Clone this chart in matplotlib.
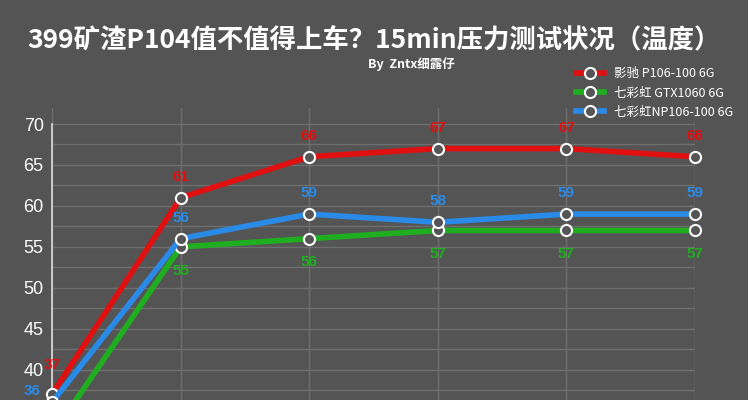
import matplotlib
matplotlib.use("Agg")
import matplotlib.pyplot as plt
import numpy as np

categories = ["0", "3", "6", "9", "12", "15"]
series_names = ["影驰 P106-100 6G", "七彩虹 GTX1060 6G", "七彩虹NP106-100 6G"]
red_vals = [37, 61, 66, 67, 67, 66]
green_vals = [32, 55, 56, 57, 57, 57]
blue_vals = [36, 56, 59, 58, 59, 59]
yticks = [40, 45, 50, 55, 60, 65, 70]

plt.rcParams["font.family"] = ["Noto Sans CJK SC"]
fig = plt.figure(figsize=(7.48, 4.0), dpi=100)
fig.patch.set_facecolor("#545454")
ax = fig.add_axes([52/748, 0, (695-52)/748, (400-124)/400 * (72-36.3)/(70-36.3)])
ax.set_facecolor("#545454")
x = np.arange(len(categories))
ax.set_xlim(0, 5)
ax.set_ylim(36.3, 72)
for v in np.arange(37.5, 70.1, 2.5):
    ax.axhline(v, color="#6e6e6e", lw=1, zorder=0)
for xi in x:
    ax.axvline(xi, color="#6e6e6e", lw=1, zorder=0)
for s in ax.spines.values():
    s.set_visible(False)
ax.plot([0, 0], [36.3, 70], color="#dddddd", lw=1.2, zorder=1, clip_on=False)
ax.set_yticks(yticks)
ax.set_yticklabels([str(t) for t in yticks], color="white", fontsize=13, fontfamily="Liberation Sans")
ax.tick_params(axis="y", length=0, pad=6)
ax.set_xticks([])

specs = [(red_vals, "#e01010", (0, 10)), (green_vals, "#1fae1f", (0, -12)), (blue_vals, "#2a8ae8", (0, 10))]
for (vals, c, off), name in zip(specs, series_names):
    ax.plot(x, vals, color=c, lw=4, marker="o", ms=8, mfc="#555555", mec="white", mew=1.5, zorder=3, clip_on=False, label=name)
    for i, (xi, v) in enumerate(zip(x, vals)):
        if v < 35:
            continue
        o, va = off, ("bottom" if off[1] > 0 else "top")
        if c == "#2a8ae8" and i == 0:
            o, va = (-14, 8), "center"
        if c == "#e01010" and i == 0:
            o = (0, 16)
        ax.annotate(str(v), (xi, v), xytext=o, textcoords="offset points", ha="center",
                    va=va, color=c, fontsize=11, fontweight="bold",
                    fontfamily="Liberation Sans", annotation_clip=False)

leg = fig.legend(loc="upper right", bbox_to_anchor=(0.995, 0.86), frameon=False, fontsize=9,
                 labelcolor="white", handlelength=2.2, labelspacing=0.5)
fig.text(0.5, 0.88, "399矿渣P104值不值得上车？15min压力测试状况（温度）", ha="center", color="white", fontsize=19, fontweight="bold")
fig.text(0.55, 0.83, "By  Zntx细露仔", ha="center", color="white", fontsize=9, fontweight="bold")
fig.savefig("out.png", dpi=100, facecolor=fig.get_facecolor())
